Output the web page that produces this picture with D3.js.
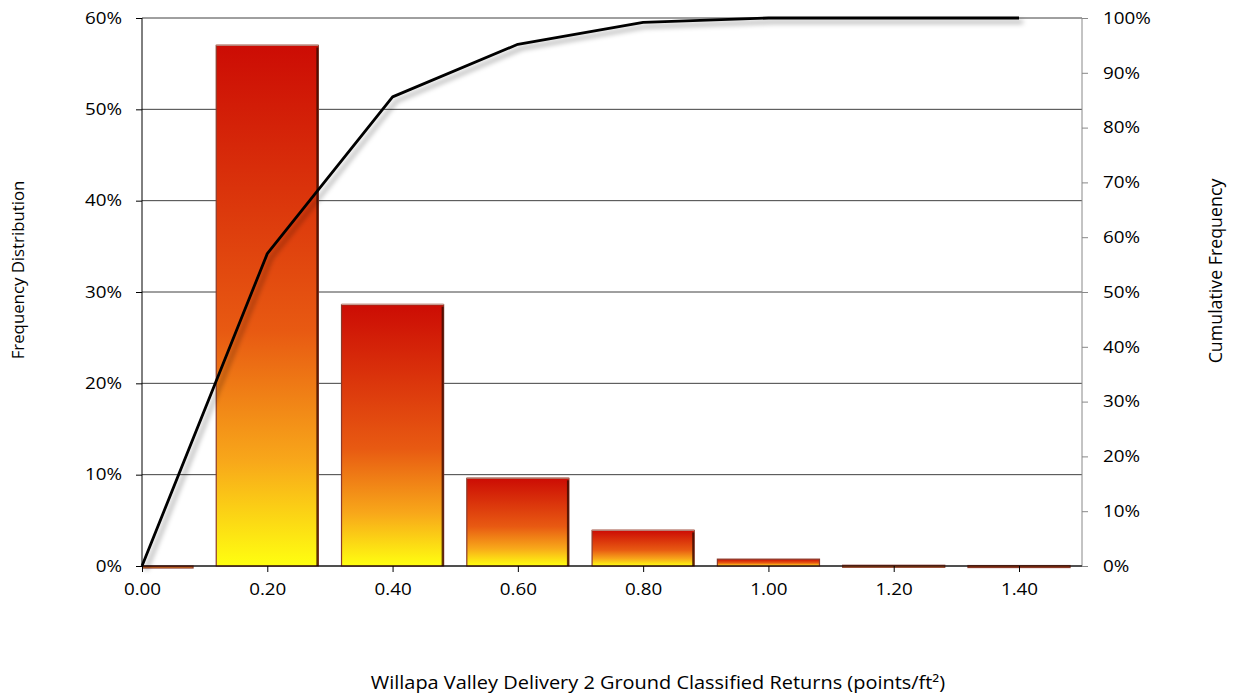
<!DOCTYPE html>
<html><head><meta charset="utf-8">
<script src="https://cdn.jsdelivr.net/npm/d3@7"></script>
<style>
body{margin:0;background:#fff;}
text{font-family:"Open Sans",sans-serif;}
</style></head><body>
<svg id="c" width="1233" height="696"></svg>
<script>
const categories = ["0.00","0.20","0.40","0.60","0.80","1.00","1.20","1.40"];
const frequency = [0.0, 57.0, 28.6, 9.6, 3.9, 0.75, 0.08, 0.05];
const cumulative = [0.0, 57.0, 85.6, 95.2, 99.2, 100.0, 100.0, 100.0];
const leftTicks = [0,10,20,30,40,50,60];
const rightTicks = [0,10,20,30,40,50,60,70,80,90,100];

const svg = d3.select("#c");
const L = 142, R = 1082, T = 18, B = 566;
const step = (1019 - 142) / 7;
const x = d3.scalePoint().domain(categories).range([L, L + 7*step]);
const yL = d3.scaleLinear().domain([0,60]).range([B,T]);
const yR = d3.scaleLinear().domain([0,100]).range([B,T]);
const barW = step * 0.815;
const FONT = "'Open Sans',sans-serif";
const SX = 1.14;

const defs = svg.append("defs");
const g = defs.append("linearGradient").attr("id","bg").attr("x1",0).attr("y1",0).attr("x2",0).attr("y2",1);
g.append("stop").attr("offset","0%").attr("stop-color","#cc0c04");
g.append("stop").attr("offset","55%").attr("stop-color","#e85a12");
g.append("stop").attr("offset","80%").attr("stop-color","#f8a81a");
g.append("stop").attr("offset","100%").attr("stop-color","#ffff10");
defs.append("clipPath").attr("id","clip").append("rect").attr("x",L).attr("y",T-5).attr("width",R-L).attr("height",B-T+10);
const f = defs.append("filter").attr("id","sh").attr("x","-20%").attr("y","-20%").attr("width","140%").attr("height","140%");
f.append("feGaussianBlur").attr("stdDeviation",2.5);

// gridlines
svg.append("g").selectAll("line").data(leftTicks).join("line")
  .attr("x1",L).attr("x2",R).attr("y1",d=>yL(d)).attr("y2",d=>yL(d))
  .attr("stroke","#404040").attr("stroke-width",1);

// bars
const bars = svg.append("g").attr("clip-path","url(#clip)");
bars.selectAll("rect").data(categories).join("rect")
  .attr("x",(d)=>x(d)-barW/2)
  .attr("y",(d,i)=>yL(frequency[i]) )
  .attr("width",barW)
  .attr("height",(d,i)=>Math.max(2, B - yL(frequency[i])))
  .attr("fill","url(#bg)")
  .attr("stroke","#8a3a2a").attr("stroke-width",1.2);
bars.selectAll("line.rs").data(categories.filter((d,i)=>frequency[i]>1)).join("line")
  .attr("class","rs")
  .attr("x1",d=>x(d)+barW/2-1).attr("x2",d=>x(d)+barW/2-1)
  .attr("y1",d=>yL(frequency[categories.indexOf(d)])+2).attr("y2",B)
  .attr("stroke","#3a0a00").attr("stroke-width",2).attr("opacity",0.8);
bars.selectAll("line.ts").data(categories.filter((d,i)=>frequency[i]>1)).join("line")
  .attr("class","ts")
  .attr("x1",d=>x(d)-barW/2).attr("x2",d=>x(d)+barW/2)
  .attr("y1",d=>yL(frequency[categories.indexOf(d)])-0.5).attr("y2",d=>yL(frequency[categories.indexOf(d)])-0.5)
  .attr("stroke","#c89a90").attr("stroke-width",1.5);

// axes lines
svg.append("line").attr("x1",L).attr("x2",L).attr("y1",T).attr("y2",B).attr("stroke","#000").attr("stroke-width",1);
svg.append("line").attr("x1",R).attr("x2",R).attr("y1",T).attr("y2",B).attr("stroke","#888").attr("stroke-width",1);
svg.append("line").attr("x1",L).attr("x2",R).attr("y1",B).attr("y2",B).attr("stroke","#000").attr("stroke-width",1);

function stretch(sel){
  sel.each(function(){
    const t = d3.select(this);
    const x0 = +t.attr("x") || 0;
    t.attr("x", x0/SX).attr("transform",`scale(${SX},1)`);
  });
}

// left axis
const la = svg.append("g").attr("transform",`translate(${L},0)`)
  .call(d3.axisLeft(yL).tickValues(leftTicks).tickFormat(d=>d+"%").tickSize(6).tickPadding(14));
la.select(".domain").remove();
la.selectAll("line").attr("stroke","#000");
la.selectAll("text").attr("font-size",16.5).attr("fill","#000").attr("font-family",FONT).call(stretch);

// right axis
const ra = svg.append("g").attr("transform",`translate(${R},0)`)
  .call(d3.axisRight(yR).tickValues(rightTicks).tickFormat(d=>d+"%").tickSize(6).tickPadding(15));
ra.select(".domain").remove();
ra.selectAll("line").attr("stroke","#888");
ra.selectAll("text").attr("font-size",16.5).attr("fill","#000").attr("font-family",FONT).call(stretch);

// bottom axis
const ba = svg.append("g").attr("transform",`translate(0,${B})`)
  .call(d3.axisBottom(x).tickSize(6).tickPadding(11));
ba.select(".domain").remove();
ba.selectAll("line").attr("stroke","#000");
ba.selectAll("text").attr("font-size",16.5).attr("fill","#000").attr("font-family",FONT).call(stretch);

// cumulative line with shadow
const line = d3.line().x((d,i)=>x(categories[i])).y(d=>yR(d));
svg.append("path").datum(cumulative).attr("d",line)
  .attr("transform","translate(4,4)")
  .attr("fill","none").attr("stroke","#000").attr("stroke-opacity",0.35).attr("stroke-width",3).attr("filter","url(#sh)");
svg.append("path").datum(cumulative).attr("d",line)
  .attr("fill","none").attr("stroke","#000").attr("stroke-width",2.8).attr("stroke-linejoin","round");

// titles
svg.append("text").attr("transform","translate(24,270) rotate(-90)").attr("text-anchor","middle")
  .attr("font-size",16.8).attr("fill","#000").text("Frequency Distribution");
svg.append("text").attr("transform","translate(1222,271) rotate(-90)").attr("text-anchor","middle")
  .attr("font-size",17.8).attr("fill","#000").text("Cumulative Frequency");
svg.append("text").attr("x",658/SX).attr("y",689).attr("transform",`scale(${SX},1)`).attr("text-anchor","middle")
  .attr("font-size",17.5).attr("fill","#000").text("Willapa Valley Delivery 2 Ground Classified Returns (points/ft²)");
</script></body></html>
